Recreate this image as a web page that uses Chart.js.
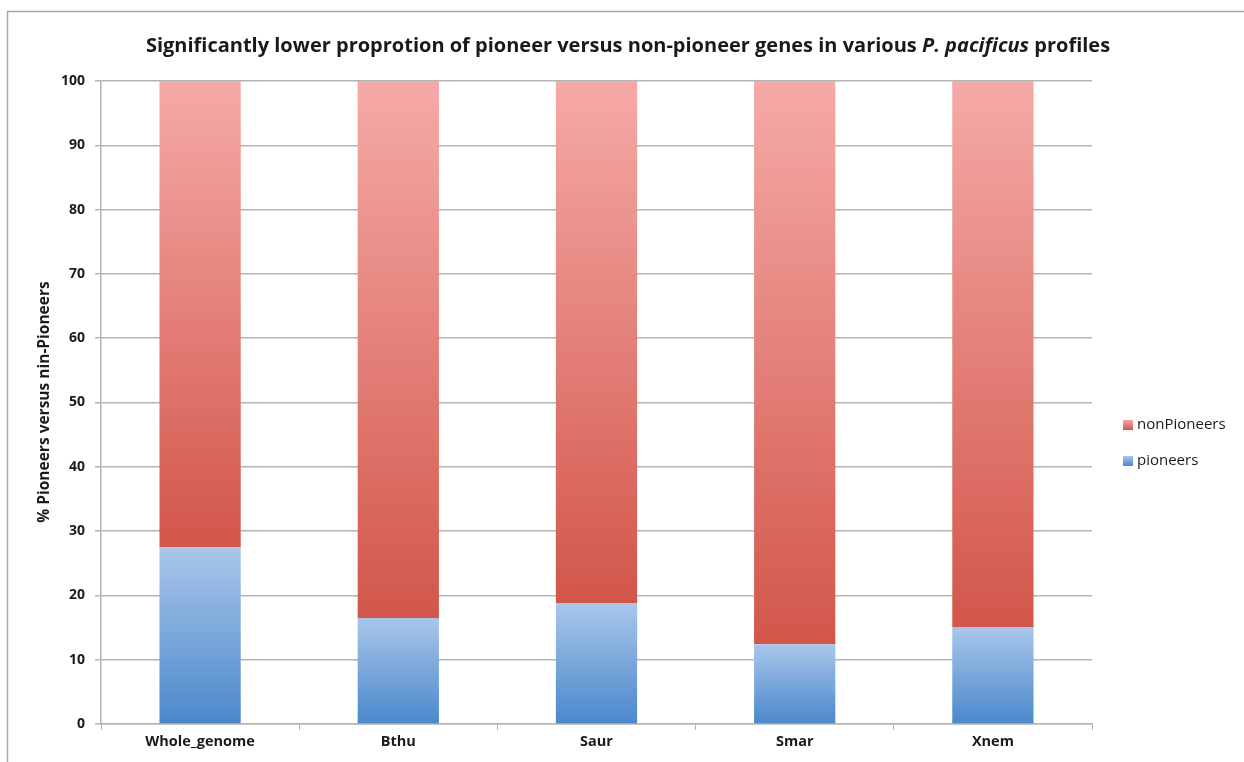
<!DOCTYPE html>
<html>
<head>
<meta charset="utf-8">
<title>Pioneer vs non-pioneer genes</title>
<script src="https://cdn.jsdelivr.net/npm/chart.js@4.4.1/dist/chart.umd.min.js"></script>
<style>
  html, body { margin: 0; padding: 0; background: #fff; }
  canvas { display: block; }
</style>
</head>
<body>
<canvas id="chart" width="1244" height="762"></canvas>
<script>
// profiles and their share of pioneer / non-pioneer genes (%)
const profiles = ['Whole_genome', 'Bthu', 'Saur', 'Smar', 'Xnem'];
const pioneers = [27.5, 16.5, 18.8, 12.4, 15.0];
const nonPioneers = [72.5, 83.5, 81.2, 87.6, 85.0];

const FONT = '"Open Sans", "DejaVu Sans", sans-serif';
const GRID = '#b4b4b4';

const blueStops = ['#a9c6ea', '#4a88cb'];
const redStops = ['#f5aaa7', '#d2564a'];

// vertical gradient spanning one stacked segment
function segmentFill(stops, lowData, highData) {
  return (ctx) => {
    const chart = ctx.chart;
    const y = chart.scales.y;
    if (!y || ctx.dataIndex === undefined || !chart.chartArea) return stops[1];
    const lo = lowData ? lowData[ctx.dataIndex] : 0;
    const hi = lo + highData[ctx.dataIndex];
    const top = y.getPixelForValue(hi);
    const bot = y.getPixelForValue(lo);
    if (!isFinite(top) || !isFinite(bot) || top === bot) return stops[1];
    const g = chart.ctx.createLinearGradient(0, top, 0, bot);
    g.addColorStop(0, stops[0]);
    g.addColorStop(1, stops[1]);
    return g;
  };
}

// frame, title, y-axis title and legend
const decorations = {
  id: 'decorations',
  beforeDraw(chart) {
    const c = chart.ctx;
    c.save();
    c.fillStyle = '#fff';
    c.fillRect(0, 0, chart.width, chart.height);
    c.strokeStyle = '#a8a8a8';
    c.lineWidth = 1.5;
    c.beginPath();
    c.moveTo(7.5, chart.height);
    c.lineTo(7.5, 11.5);
    c.lineTo(chart.width, 11.5);
    c.stroke();
    c.restore();
  },
  afterDraw(chart) {
    const c = chart.ctx;
    c.save();
    c.fillStyle = '#1a1a1a';
    c.textBaseline = 'middle';

    // title with the species name in italics
    const parts = [
      ['Significantly lower proprotion of pioneer versus non-pioneer genes in various ', 'bold 20px ' + FONT],
      ['P. pacificus', 'italic bold 20px ' + FONT],
      [' profiles', 'bold 20px ' + FONT]
    ];
    let total = 0;
    parts.forEach(p => { c.font = p[1]; total += c.measureText(p[0]).width; });
    let x = 628 - total / 2;
    c.textAlign = 'left';
    parts.forEach(p => {
      c.font = p[1];
      c.fillText(p[0], x, 46);
      x += c.measureText(p[0]).width;
    });

    // y-axis title
    c.save();
    c.translate(45, 402);
    c.rotate(-Math.PI / 2);
    c.textAlign = 'center';
    c.font = 'bold 15.5px ' + FONT;
    c.fillText('% Pioneers versus nin-Pioneers', 0, 0);
    c.restore();

    // legend
    const items = [['nonPioneers', redStops, 425], ['pioneers', blueStops, 461]];
    c.font = '15px ' + FONT;
    c.textAlign = 'left';
    items.forEach(([label, stops, ly]) => {
      const g = c.createLinearGradient(0, ly - 5, 0, ly + 5);
      g.addColorStop(0, stops[0]);
      g.addColorStop(1, stops[1]);
      c.fillStyle = g;
      c.fillRect(1123, ly - 5, 10, 10);
      c.fillStyle = '#1a1a1a';
      c.fillText(label, 1137, ly);
    });
    c.restore();
  }
};

new Chart(document.getElementById('chart'), {
  type: 'bar',
  data: {
    labels: profiles,
    datasets: [
      {
        label: 'pioneers',
        data: pioneers,
        backgroundColor: segmentFill(blueStops, null, pioneers),
        borderWidth: 0,
        barPercentage: 0.41,
        categoryPercentage: 1
      },
      {
        label: 'nonPioneers',
        data: nonPioneers,
        backgroundColor: segmentFill(redStops, pioneers, nonPioneers),
        borderWidth: 0,
        barPercentage: 0.41,
        categoryPercentage: 1
      }
    ]
  },
  options: {
    responsive: false,
    animation: false,
    layout: { padding: { top: 81, right: 152, left: 0, bottom: 0 } },
    plugins: {
      legend: { display: false },
      title: { display: false },
      tooltip: { enabled: false }
    },
    scales: {
      x: {
        stacked: true,
        afterFit(scale) { scale.height = 38; },
        grid: {
          offset: true,
          drawOnChartArea: false,
          drawTicks: true,
          tickLength: 6,
          color: GRID
        },
        border: { display: true, color: GRID, width: 1.5 },
        ticks: {
          color: '#1a1a1a',
          padding: 3,
          font: { family: FONT, size: 14.5, weight: 'bold' }
        }
      },
      y: {
        stacked: true,
        min: 0,
        max: 100,
        afterFit(scale) { scale.width = 101; },
        ticks: {
          stepSize: 10,
          color: '#1a1a1a',
          padding: 10,
          font: { family: FONT, size: 14, weight: 'bold' }
        },
        grid: {
          color: GRID,
          lineWidth: 1.5,
          tickLength: 6
        },
        border: { display: true, color: GRID, width: 1.5 }
      }
    }
  },
  plugins: [decorations]
});
</script>
</body>
</html>
